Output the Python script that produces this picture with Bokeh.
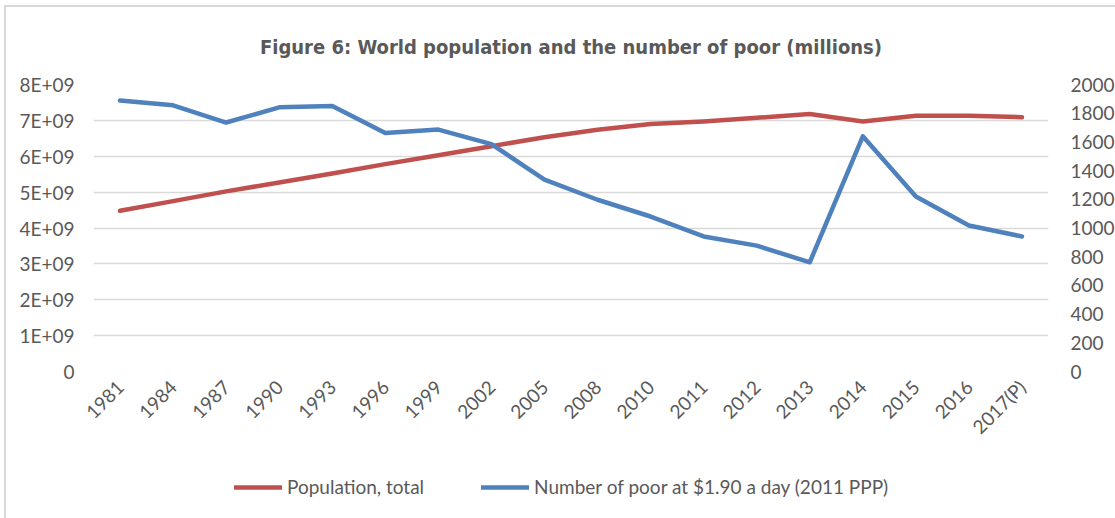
import math

from bokeh.embed import file_html
from bokeh.resources import INLINE
from bokeh.plotting import figure
from bokeh.layouts import column
from bokeh.models import (Range1d, LinearAxis, FixedTicker, CustomJSTickFormatter,
                          Legend, LegendItem)

# Survey years (categories on the x axis)
years = ["1981", "1984", "1987", "1990", "1993", "1996", "1999", "2002", "2005",
         "2008", "2010", "2011", "2012", "2013", "2014", "2015", "2016", "2017(P)"]

# World population, total (persons) - left axis
population = [4.48e9, 4.75e9, 5.02e9, 5.27e9, 5.52e9, 5.78e9, 6.03e9, 6.28e9, 6.53e9,
              6.74e9, 6.90e9, 6.97e9, 7.07e9, 7.18e9, 6.97e9, 7.13e9, 7.13e9, 7.09e9]

# Number of poor at $1.90 a day, 2011 PPP (millions) - right axis
poor = [1888, 1855, 1735, 1841, 1851, 1662, 1686, 1585, 1337,
        1197, 1080, 941, 877, 761, 1639, 1220, 1017, 941]

series_names = ["Population, total", "Number of poor at $1.90 a day (2011 PPP)"]

left_ticks = [0, 1e9, 2e9, 3e9, 4e9, 5e9, 6e9, 7e9, 8e9]
right_ticks = [0, 200, 400, 600, 800, 1000, 1200, 1400, 1600, 1800, 2000]

TEXT = "#595959"
GRID = "#d9d9d9"
RED = "#C0504D"
BLUE = "#4F81BD"
TICK_FONT = "Lato"
TICK_SIZE = "19px"
LINE_W = 4.5

p = figure(
    x_range=years,
    y_range=Range1d(0, 8e9),
    width=1109, height=453,
    frame_width=955, frame_height=287,
    output_backend="svg",
    toolbar_location=None,
    min_border_left=87, min_border_right=67,
    min_border_top=76, min_border_bottom=90,
)
p.extra_y_ranges = {"poor": Range1d(0, 2000)}

p.outline_line_color = None
p.background_fill_color = "white"
p.border_fill_color = "white"

# Title
p.title.text = "Figure 6: World population and the number of poor (millions)"
p.title.align = "center"
p.title.text_font = "DejaVu Sans Condensed, Liberation Sans, sans-serif"
p.title.text_font_style = "bold"
p.title.text_font_size = "20px"
p.title.text_color = TEXT
p.title.standoff = 51

# Grid
p.xgrid.grid_line_color = None
p.ygrid.grid_line_color = GRID
p.ygrid.grid_line_width = 1.3
p.ygrid.ticker = FixedTicker(ticks=left_ticks)

# Left axis
ya = p.yaxis[0]
ya.ticker = FixedTicker(ticks=left_ticks)
ya.formatter = CustomJSTickFormatter(
    code="return tick == 0 ? '0' : Math.round(tick / 1e9) + 'E+09';")
ya.major_label_standoff = 13

# Right axis
ra = LinearAxis(y_range_name="poor", ticker=FixedTicker(ticks=right_ticks))
ra.major_label_standoff = 16
p.add_layout(ra, "right")

for ax in (ya, ra):
    ax.axis_line_color = None
    ax.major_tick_line_color = None
    ax.minor_tick_line_color = None
    ax.major_label_text_font = TICK_FONT
    ax.major_label_text_font_size = TICK_SIZE
    ax.major_label_text_color = TEXT

# Bottom axis
xa = p.xaxis[0]
xa.axis_line_color = None
xa.major_tick_line_color = None
xa.minor_tick_line_color = None
xa.major_label_orientation = math.pi / 4
xa.major_label_text_font = TICK_FONT
xa.major_label_text_font_size = TICK_SIZE
xa.major_label_text_color = TEXT
xa.major_label_standoff = 6

# Series
p.line(years, population, line_color=RED, line_width=LINE_W,
       line_cap="round", line_join="round")
p.line(years, poor, y_range_name="poor", line_color=BLUE, line_width=LINE_W,
       line_cap="round", line_join="round")

# Legend strip underneath the chart: the same series are drawn here with a
# y range far below their values, so only their legend swatches show.
lf = figure(width=1109, height=58, x_range=years, y_range=Range1d(-2, -1),
            output_backend="svg", toolbar_location=None,
            min_border=0)
lf.axis.visible = False
lf.grid.grid_line_color = None
lf.outline_line_color = None
lf.background_fill_color = "white"
lf.border_fill_color = "white"
k_pop = lf.line(years, population, line_color=RED, line_width=LINE_W, line_cap="round")
k_poor = lf.line(years, poor, line_color=BLUE, line_width=LINE_W, line_cap="round")

legend = Legend(
    items=[LegendItem(label=series_names[0], renderers=[k_pop]),
           LegendItem(label=series_names[1], renderers=[k_poor])],
    orientation="horizontal",
    location=(141, 21),
    glyph_width=48, glyph_height=20,
    label_standoff=5, spacing=57,
    padding=4, margin=0,
    border_line_color=None,
    background_fill_alpha=0,
    label_text_font=TICK_FONT,
    label_text_font_size=TICK_SIZE,
    label_text_color=TEXT,
)
lf.add_layout(legend, "center")

page = column(p, lf, spacing=0,
              styles={"margin-left": "4px", "margin-top": "5px",
                      "border-left": "2px solid #d9d9d9",
                      "border-top": "2px solid #d9d9d9"})

open("out.html", "w").write(file_html(page, INLINE))
